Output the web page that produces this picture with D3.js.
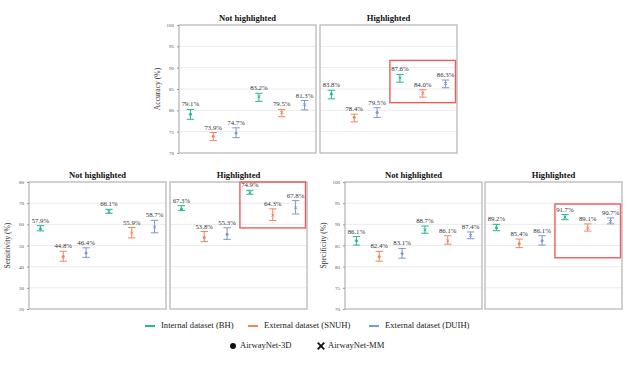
<!DOCTYPE html>
<html><head><meta charset="utf-8">
<script src="https://cdn.jsdelivr.net/npm/d3@7"></script>
<style>body{margin:0;background:#fff}svg{display:block}</style>
</head><body>
<svg id="c" width="628" height="365"></svg>
<script>
// ---------- data ----------
const panelTitles = ["Not highlighted", "Highlighted"];
const datasets = ["Internal dataset (BH)", "External dataset (SNUH)", "External dataset (DUIH)"];
const models = ["AirwayNet-3D", "AirwayNet-MM"];
const metricLabels = ["Accuracy (%)", "Sensitivity (%)", "Specificity (%)"];
const accTicks = [70, 75, 80, 85, 90, 95, 100];
const senTicks = [20, 30, 40, 50, 60, 70, 80];
const speTicks = [70, 75, 80, 85, 90, 95, 100];
// order per panel: 3D-BH, 3D-SNUH, 3D-DUIH, MM-BH, MM-SNUH, MM-DUIH
const accNotMean = [79.1, 73.9, 74.7, 83.2, 79.5, 81.3];
const accNotLow  = [77.9, 72.9, 73.6, 82.1, 78.5, 80.1];
const accNotHigh = [80.2, 74.8, 75.9, 84.0, 80.2, 82.3];
const accHiMean  = [83.8, 78.4, 79.5, 87.6, 84.0, 86.3];
const accHiLow   = [82.7, 77.3, 78.3, 86.6, 83.1, 85.3];
const accHiHigh  = [84.7, 79.1, 80.6, 88.4, 84.8, 87.1];
const senNotMean = [57.9, 44.8, 46.4, 66.1, 55.9, 58.7];
const senNotLow  = [56.9, 42.6, 44.4, 65.2, 53.6, 56.0];
const senNotHigh = [59.4, 47.3, 48.9, 67.1, 58.5, 61.9];
const senHiMean  = [67.3, 53.8, 55.3, 74.9, 64.3, 67.8];
const senHiLow   = [66.5, 51.9, 52.9, 74.2, 61.8, 64.9];
const senHiHigh  = [68.8, 56.6, 58.4, 76.1, 67.3, 71.2];
const speNotMean = [86.1, 82.4, 83.1, 88.7, 86.1, 87.4];
const speNotLow  = [85.1, 81.3, 82.0, 87.9, 85.3, 86.6];
const speNotHigh = [87.1, 83.6, 84.3, 89.6, 87.3, 88.2];
const speHiMean  = [89.2, 85.4, 86.1, 91.7, 89.1, 90.7];
const speHiLow   = [88.5, 84.5, 85.1, 91.1, 88.4, 90.1];
const speHiHigh  = [90.0, 86.5, 87.3, 92.3, 90.1, 91.5];
// highlight box range (value units) in the "Highlighted" panel
const accBox = [81.8, 91.7];
const senBox = [58.3, 80];
const speBox = [82.1, 94.8];

// ---------- style ----------
const colors = ["#27b597", "#f5845c", "#7b98cf"];
const serif = "'Liberation Serif','Times New Roman',serif";
const svg = d3.select("#c");

const metrics = [
  {label: metricLabels[0], ticks: accTicks, box: accBox, x0: [179, 320], y0: 25, h: 128,
   panels: [[accNotMean, accNotLow, accNotHigh], [accHiMean, accHiLow, accHiHigh]]},
  {label: metricLabels[1], ticks: senTicks, box: senBox, x0: [29, 170], y0: 182, h: 127,
   panels: [[senNotMean, senNotLow, senNotHigh], [senHiMean, senHiLow, senHiHigh]]},
  {label: metricLabels[2], ticks: speTicks, box: speBox, x0: [345, 485], y0: 182, h: 127,
   panels: [[speNotMean, speNotLow, speNotHigh], [speHiMean, speHiLow, speHiHigh]]}
];
const W = 137;
const keys = d3.range(6);

metrics.forEach(m => {
  const y = d3.scaleLinear().domain(d3.extent(m.ticks)).range([m.y0 + m.h, m.y0]);
  // y label
  svg.append("text")
    .attr("transform", `translate(${m.x0[0] - 21},${m.y0 + m.h / 2}) rotate(-90)`)
    .attr("text-anchor", "middle").attr("dominant-baseline", "middle")
    .style("font-family", serif).style("font-size", "7.6px").attr("fill", "#333")
    .text(m.label);

  m.panels.forEach((p, pi) => {
    const [mean, low, high] = p;
    const x0 = m.x0[pi];
    const x = d3.scalePoint().domain(keys).range([x0, x0 + W]).padding(0.5);
    const g = svg.append("g");
    // grid
    g.selectAll("line.grid").data(m.ticks.slice(1, -1)).join("line")
      .attr("x1", x0).attr("x2", x0 + W).attr("y1", d => y(d)).attr("y2", d => y(d))
      .attr("stroke", "#ebebeb").attr("stroke-width", 1);
    // axis (first panel only)
    if (pi === 0) {
      const ax = svg.append("g").attr("transform", `translate(${x0},0)`)
        .call(d3.axisLeft(y).tickValues(m.ticks).tickSize(2).tickPadding(3).tickFormat(d3.format("d")));
      ax.select(".domain").remove();
      ax.selectAll(".tick line").attr("stroke", "#999");
      ax.selectAll("text").style("font-family", serif).style("font-size", "5px").attr("fill", "#555");
    }
    // frame
    g.append("rect").attr("x", x0).attr("y", m.y0).attr("width", W).attr("height", m.h)
      .attr("fill", "none").attr("stroke", "#b8b8b8").attr("stroke-width", 1.3);
    // title
    svg.append("text").attr("x", x0 + W / 2).attr("y", m.y0 - 4.5).attr("text-anchor", "middle")
      .style("font-family", serif).style("font-size", "8.6px").style("font-weight", "bold").attr("fill", "#111")
      .text(panelTitles[pi]);
    // error bars
    keys.forEach(i => {
      const c = colors[i % 3];
      const cx = x(i);
      const eg = g.append("g").attr("stroke", c).attr("stroke-width", 1);
      eg.append("line").attr("x1", cx).attr("x2", cx).attr("y1", y(low[i])).attr("y2", y(high[i]));
      eg.append("line").attr("x1", cx - 3.7).attr("x2", cx + 3.7).attr("y1", y(low[i])).attr("y2", y(low[i]));
      eg.append("line").attr("x1", cx - 3.7).attr("x2", cx + 3.7).attr("y1", y(high[i])).attr("y2", y(high[i]));
      if (i < 3) {
        g.append("circle").attr("cx", cx).attr("cy", y(mean[i])).attr("r", 1.5).attr("fill", c);
      } else {
        g.append("path").attr("d", d3.symbol(d3.symbolX, 6)()).attr("transform", `translate(${cx},${y(mean[i])})`)
          .attr("stroke", c).attr("stroke-width", 1).attr("fill", "none");
      }
      g.append("text").attr("x", cx).attr("y", y(high[i]) - 3).attr("text-anchor", "middle")
        .style("font-family", serif).style("font-size", "6.8px").attr("fill", "#333")
        .text(d3.format(".1f")(mean[i]) + "%");
    });
    // highlight box
    if (pi === 1) {
      g.append("rect").attr("x", x(3) - 10).attr("y", y(m.box[1]))
        .attr("width", x0 + W - 1.5 - (x(3) - 10)).attr("height", y(m.box[0]) - y(m.box[1]))
        .attr("fill", "none").attr("stroke", "#ee5b5b").attr("stroke-width", 1.4);
    }
  });
});

// ---------- legend ----------
const legX = [145, 248, 369];
datasets.forEach((d, i) => {
  svg.append("line").attr("x1", legX[i]).attr("x2", legX[i] + 10).attr("y1", 326).attr("y2", 326)
    .attr("stroke", colors[i]).attr("stroke-width", 2);
  svg.append("text").attr("x", legX[i] + 16).attr("y", 326).attr("dominant-baseline", "middle")
    .style("font-family", serif).style("font-size", "8.6px").attr("fill", "#222").text(d);
});
const modX = [233, 321];
models.forEach((d, i) => {
  if (i === 0) {
    svg.append("circle").attr("cx", modX[i]).attr("cy", 346).attr("r", 3).attr("fill", "#111");
  } else {
    svg.append("path").attr("d", d3.symbol(d3.symbolX, 30)()).attr("transform", `translate(${modX[i]},346)`)
      .attr("stroke", "#111").attr("stroke-width", 1.8).attr("fill", "none");
  }
  svg.append("text").attr("x", modX[i] + 7).attr("y", 346).attr("dominant-baseline", "middle")
    .style("font-family", serif).style("font-size", "8.6px").attr("fill", "#222").text(d);
});
</script>
</body></html>
